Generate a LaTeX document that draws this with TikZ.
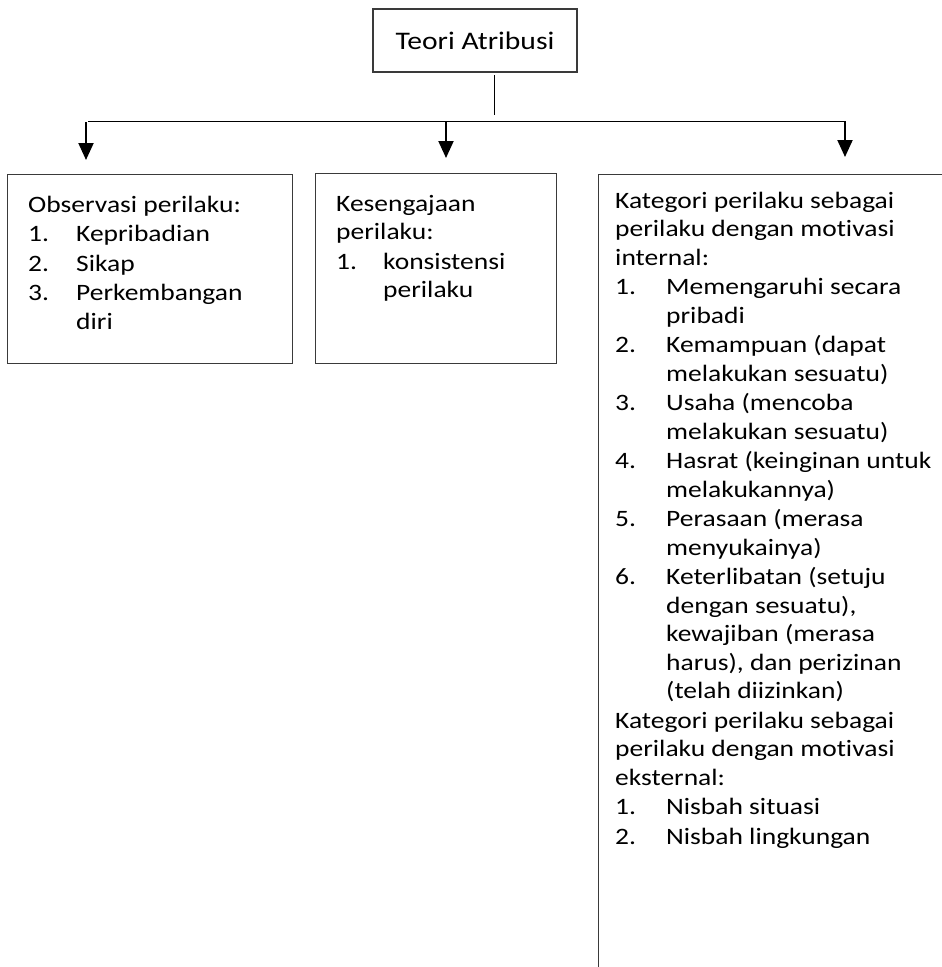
\documentclass[tikz,border=0pt]{standalone}
\usepackage{fontspec}
\setmainfont{Carlito}[FakeStretch=1.17, Ligatures=NoCommon]
\usetikzlibrary{arrows.meta}
\definecolor{boxgray}{HTML}{3A3A3A}
% numbered entry with hanging indent: #1 indent, #2 number, #3 text
\newcommand{\itm}[3]{\hangindent=#1\hangafter=1\noindent\makebox[#1][l]{#2}#3\par}
\begin{document}
\begin{tikzpicture}[x=1pt,y=-1pt,
  box/.style={draw=boxgray, line width=1.3pt, rectangle, inner sep=0pt},
  link/.style={draw=black, line width=1pt},
  down/.style={draw=black, line width=2pt, -{Triangle[width=15pt,length=17pt]}},
  body/.style={anchor=base west, inner sep=0pt, font=\fontsize{23.5}{28.5}\selectfont}]
\useasboundingbox[fill=white] (0,0) rectangle (942,967);

% title box
\node[box, minimum width=204pt, minimum height=63pt,
      font=\fontsize{25.3}{30}\selectfont] (teori) at (475,40.5) {Teori Atribusi};

% the three category boxes
\node[box, anchor=north west, minimum width=285pt, minimum height=189pt] (obs) at (7,174) {};
\node[box, anchor=north west, minimum width=241pt, minimum height=190pt] (ses) at (315,173) {};
\begin{scope}
  \clip (0,0) rectangle (942,967);
  \node[box, anchor=north west, minimum width=380pt, minimum height=830pt] (kat) at (598,174) {};
\end{scope}

% connectors
\coordinate (stemtop) at (494,75);
\coordinate (stembot) at (494,115);
\coordinate (busL) at (88,121);
\coordinate (busR) at (845,121);
\coordinate (a1) at (86,122);
\coordinate (t1) at (86,160);
\coordinate (a2) at (446,122);
\coordinate (t2) at (446,158);
\coordinate (t3) at (845,157);
\draw[link] (stemtop) -- (stembot);
\draw[link] (busL) -- (busR);
\draw[down] (a1) -- (t1);
\draw[down] (a2) -- (t2);
\draw[down] (busR) -- (t3);

% box texts
\node[body] (obstxt) at (28,212) {\parbox[t]{300pt}{\setlength{\parskip}{1pt}%
Observasi perilaku:\par
\itm{48pt}{1.}{Kepribadian}
\itm{48pt}{2.}{Sikap}
\itm{48pt}{3.}{Perkembangan\newline diri}}};

\node[body] (sestxt) at (336,211) {\parbox[t]{260pt}{\setlength{\parskip}{1pt}%
Kesengajaan\newline perilaku:\par
\itm{47pt}{1.}{konsistensi\newline perilaku}}};

\node[body] (kattxt) at (615,208) {\parbox[t]{420pt}{\setlength{\parskip}{1pt}%
Kategori perilaku sebagai\newline perilaku dengan motivasi\newline internal:\par
\itm{51pt}{1.}{Memengaruhi secara\newline pribadi}
\itm{51pt}{2.}{Kemampuan (dapat\newline melakukan sesuatu)}
\itm{51pt}{3.}{Usaha (mencoba\newline melakukan sesuatu)}
\itm{51pt}{4.}{Hasrat (keinginan untuk\newline melakukannya)}
\itm{51pt}{5.}{Perasaan (merasa\newline menyukainya)}
\itm{51pt}{6.}{Keterlibatan (setuju\newline dengan sesuatu),\newline kewajiban (merasa\newline harus), dan perizinan\newline (telah diizinkan)}
Kategori perilaku sebagai\newline perilaku dengan motivasi\newline eksternal:\par
\itm{51pt}{1.}{Nisbah situasi}
\itm{51pt}{2.}{Nisbah lingkungan}}};
\end{tikzpicture}
\end{document}
